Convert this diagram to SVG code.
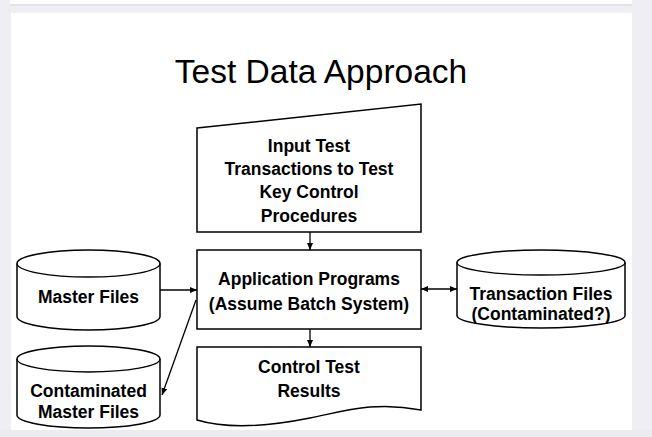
<svg xmlns="http://www.w3.org/2000/svg" width="652" height="437" viewBox="0 0 652 437">
<defs>
<style>
.shape{fill:#fff;stroke:#000;stroke-width:1.5}
.line{fill:none;stroke:#000;stroke-width:1.3}
.lbl{font-family:"Liberation Sans",Arial,sans-serif;font-weight:bold;font-size:17.5px;fill:#000;text-anchor:middle}
.title{font-family:"Liberation Sans",Arial,sans-serif;font-size:33.5px;fill:#000;text-anchor:middle}
</style>
<marker id="arr" markerUnits="userSpaceOnUse" markerWidth="8" markerHeight="6" refX="7" refY="3" orient="auto-start-reverse">
<path d="M0,0 L7,3 L0,6 z" fill="#000"/>
</marker>
</defs>
<rect x="0" y="0" width="652" height="437" fill="#eeeef4"/>
<rect x="10" y="3" width="622" height="3" fill="#e2e2e8"/>
<rect x="10" y="0" width="622" height="4" fill="#fff"/>
<rect x="11" y="13" width="621" height="417" fill="#fff"/>
<rect x="0" y="430" width="652" height="7" fill="#ececf0"/>
<text class="title" x="321" y="83">Test Data Approach</text>
<g id="input">
<polygon class="shape" points="197,128 421,104 421,232 197,232"/>
<text class="lbl" x="309" y="152">Input Test</text>
<text class="lbl" x="309" y="175">Transactions to Test</text>
<text class="lbl" x="309" y="198">Key Control</text>
<text class="lbl" x="309" y="222">Procedures</text>
</g>
<g id="app">
<rect class="shape" x="197" y="250" width="224" height="79"/>
<text class="lbl" x="309" y="285">Application Programs</text>
<text class="lbl" x="309" y="310">(Assume Batch System)</text>
</g>
<g id="control">
<path class="shape" d="M197,347 L421,347 L421,410 C375,401 345,411 310,418 C270,426 230,430 197,420 Z"/>
<text class="lbl" x="309" y="373">Control Test</text>
<text class="lbl" x="309" y="397">Results</text>
</g>
<g id="master">
<path class="shape" d="M17,263.5 A71.5,13.5 0 0 1 160,263.5 L160,316.5 A71.5,13.5 0 0 1 17,316.5 Z"/>
<path class="line" d="M17,263.5 A71.5,13.5 0 0 0 160,263.5" stroke-width="1.5"/>
<text class="lbl" x="88.5" y="303">Master Files</text>
</g>
<g id="contaminated">
<path class="shape" d="M17,359 A71.5,13 0 0 1 160,359 L160,415 A71.5,13 0 0 1 17,415 Z"/>
<path class="line" d="M17,359 A71.5,13 0 0 0 160,359" stroke-width="1.5"/>
<text class="lbl" x="88.5" y="397">Contaminated</text>
<text class="lbl" x="88.5" y="418">Master Files</text>
</g>
<g id="transaction">
<path class="shape" d="M457,262.5 A84,12.5 0 0 1 625,262.5 L625,315.5 A84,12.5 0 0 1 457,315.5 Z"/>
<path class="line" d="M457,262.5 A84,12.5 0 0 0 625,262.5" stroke-width="1.5"/>
<text class="lbl" x="541" y="300">Transaction Files</text>
<text class="lbl" x="541" y="320">(Contaminated?)</text>
</g>
<g id="connectors">
<line class="line" x1="310" y1="232" x2="310" y2="250" marker-end="url(#arr)"/>
<line class="line" x1="310" y1="329" x2="310" y2="347" marker-end="url(#arr)"/>
<line class="line" x1="160" y1="290" x2="197" y2="290" marker-end="url(#arr)"/>
<line class="line" x1="421" y1="289" x2="457" y2="289" marker-start="url(#arr)" marker-end="url(#arr)"/>
<line class="line" x1="196" y1="300" x2="162" y2="395" marker-end="url(#arr)"/>
</g>
</svg>
